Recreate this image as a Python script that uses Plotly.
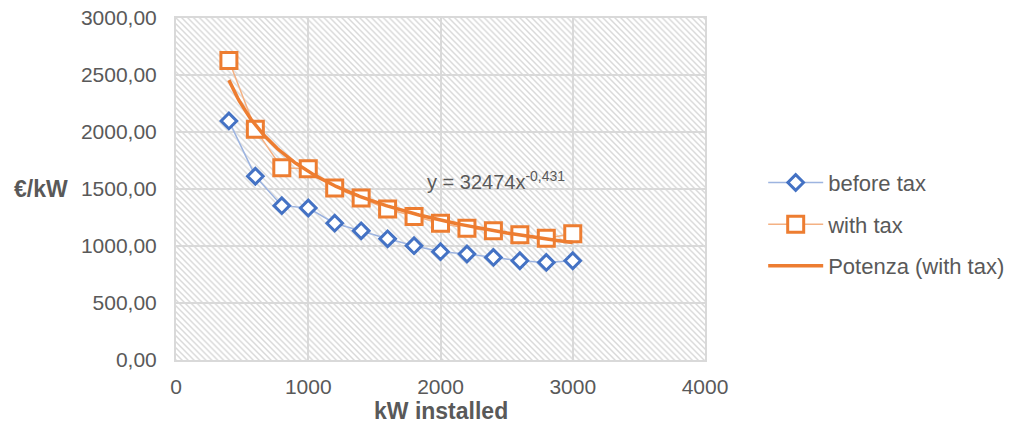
import base64
import numpy as np
import plotly.graph_objects as go

# Installed power (kW) and specific cost (€/kW)
kw_installed = [400, 600, 800, 1000, 1200, 1400, 1600, 1800, 2000, 2200, 2400, 2600, 2800, 3000]
cost_before_tax = [2097, 1612, 1354, 1333, 1200, 1133, 1063, 1003, 950, 930, 900, 871, 856, 871]
cost_with_tax = [2627, 2025, 1686, 1677, 1509, 1421, 1324, 1259, 1200, 1156, 1133, 1098, 1068, 1107]

# Power-law trendline fitted on the "with tax" series: y = a * x^b
trend_a = 32474
trend_b = -0.431

x_ticks = [0, 1000, 2000, 3000, 4000]
y_ticks = [0, 500, 1000, 1500, 2000, 2500, 3000]

FONT = "Arial, 'Liberation Sans', sans-serif"
TEXT = "#595959"
GRID = "#d9d9d9"
BLUE = "#4472C4"
BLUE_LINE = "#9DB4E0"
ORANGE = "#ED7D31"
ORANGE_LINE = "#F4B183"

trend_x = np.linspace(min(kw_installed), max(kw_installed), 200)
trend_y = trend_a * trend_x ** trend_b

# Diagonal hatch fill for the plot area
hatch_svg = (
    '<svg xmlns="http://www.w3.org/2000/svg" width="535" height="342">'
    '<defs><pattern id="h" width="6" height="6" patternUnits="userSpaceOnUse">'
    '<path d="M0,0L6,6M-1,5L1,7M5,-1L7,1" stroke="#d9d9d9" stroke-width="1.5"/>'
    '</pattern></defs>'
    '<rect width="100%" height="100%" fill="white"/>'
    '<rect width="100%" height="100%" fill="url(#h)"/></svg>'
)
hatch_uri = "data:image/svg+xml;base64," + base64.b64encode(hatch_svg.encode()).decode()

fig = go.Figure()

fig.add_trace(go.Scatter(
    x=kw_installed, y=cost_before_tax, name="before tax", mode="lines+markers",
    line=dict(color=BLUE_LINE, width=1.5),
    marker=dict(symbol="diamond", size=12, color="white", line=dict(color=BLUE, width=3)),
    legendgroup="a",
))
fig.add_trace(go.Scatter(
    x=kw_installed, y=cost_with_tax, name="with tax", mode="lines+markers",
    line=dict(color=ORANGE_LINE, width=1.5),
    marker=dict(symbol="square", size=16, color="white", line=dict(color=ORANGE, width=3)),
    legendgroup="b",
))
fig.add_trace(go.Scatter(
    x=trend_x, y=trend_y, name="Potenza (with tax)", mode="lines",
    line=dict(color=ORANGE, width=3.5),
    legendgroup="c",
))

fig.add_layout_image(dict(
    source=hatch_uri, xref="x", yref="y", x=0, y=3000, sizex=4000, sizey=3000,
    xanchor="left", yanchor="top", sizing="stretch", layer="below",
))

axis_common = dict(
    showgrid=True, gridcolor=GRID, gridwidth=2,
    showline=True, linecolor=GRID, linewidth=2, mirror=True,
    zeroline=False, ticks="", automargin=False,
    tickfont=dict(family=FONT, size=21, color=TEXT),
)

fig.update_layout(
    width=1022, height=430,
    margin=dict(l=176, r=311, t=18, b=70),
    paper_bgcolor="white", plot_bgcolor="white",
    separators=",.",
    xaxis=dict(range=[0, 4000], tickvals=x_ticks, ticklabelstandoff=7, **axis_common),
    yaxis=dict(range=[0, 3000], tickvals=y_ticks, tickformat=".2f", ticklabelstandoff=13, **axis_common),
    legend=dict(
        x=1.11, y=0.397, xanchor="left", yanchor="middle",
        font=dict(family=FONT, size=22, color=TEXT),
        traceorder="grouped", tracegroupgap=10, itemwidth=55,
        bgcolor="rgba(0,0,0,0)",
    ),
    showlegend=True,
    annotations=[
        dict(text="€/kW", xref="paper", yref="y", x=-0.31, y=1500, xanchor="left",
             yanchor="middle", showarrow=False,
             font=dict(family=FONT, size=23, color=TEXT, weight="bold")),
        dict(text="kW installed", xref="x", yref="paper", x=2000, y=-0.106,
             xanchor="center", yanchor="top", showarrow=False,
             font=dict(family=FONT, size=23, color=TEXT, weight="bold")),
        dict(text="y = 32474x<sup>-0,431</sup>", xref="x", yref="y", x=1880, y=1575,
             xanchor="left", yanchor="middle", showarrow=False,
             font=dict(family=FONT, size=20, color=TEXT)),
    ],
)

fig.write_html("out.html")
